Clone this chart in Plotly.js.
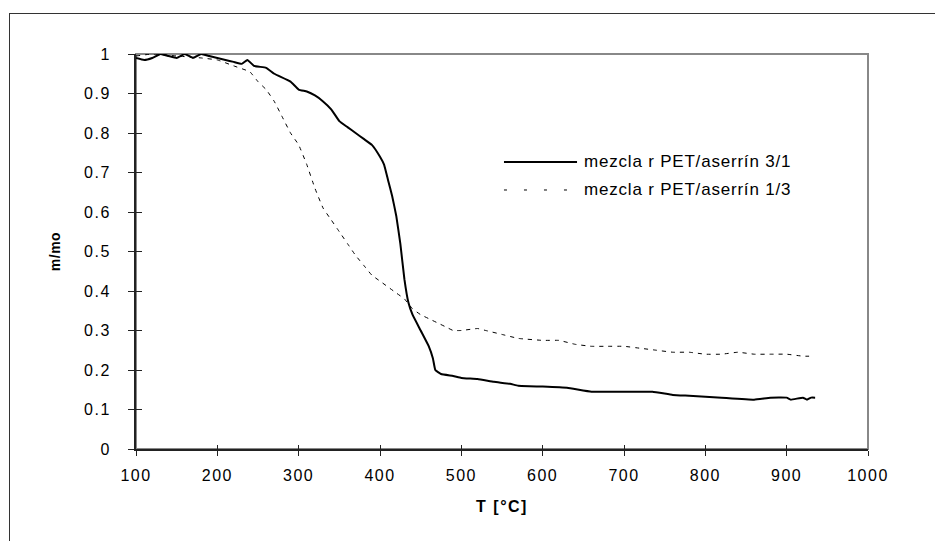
<!DOCTYPE html>
<html>
<head>
<meta charset="utf-8">
<script src="https://cdn.plot.ly/plotly-3.0.1.min.js"></script>
<style>
html,body{margin:0;padding:0;background:#fff;}
#wrap{position:relative;width:935px;height:541px;overflow:hidden;}
#chart{position:absolute;left:0;top:0;width:935px;height:541px;}
#frame{position:absolute;left:9px;top:13px;width:940px;height:540px;border:1.5px solid #333;box-sizing:border-box;pointer-events:none;}
.xtick text, .ytick text{letter-spacing:1.5px;}
.annotation-text{letter-spacing:0.8px;}
.xtitle{letter-spacing:1.5px;}
.ytitle{letter-spacing:0.5px;}
</style>
</head>
<body>
<div id="wrap"><div id="chart"></div><div id="frame"></div></div>
<script>
const seriesNames = ["mezcla r PET/aserrín 3/1", "mezcla r PET/aserrín 1/3"];

const t31 = [100,110,120,130,140,150,160,170,180,190,200,210,220,230,237,245,260,270,290,300,310,320,330,340,350,360,370,380,390,400,405,410,415,420,425,430,435,440,450,460,465,468,475,490,500,520,540,560,570,600,630,660,700,735,760,780,820,860,880,900,905,920,925,930,935];
const m31 = [0.99,0.985,0.99,1.0,0.995,0.99,1.0,0.99,1.0,0.995,0.99,0.985,0.98,0.975,0.985,0.97,0.965,0.95,0.93,0.91,0.905,0.895,0.88,0.86,0.83,0.815,0.80,0.785,0.77,0.74,0.72,0.68,0.64,0.59,0.52,0.43,0.37,0.34,0.30,0.26,0.23,0.20,0.19,0.185,0.18,0.177,0.17,0.165,0.16,0.158,0.155,0.145,0.145,0.145,0.137,0.135,0.13,0.125,0.13,0.13,0.125,0.13,0.125,0.13,0.13];

const t13 = [100,120,150,180,200,220,240,250,260,270,280,290,300,310,320,330,340,350,360,370,380,390,400,410,420,430,440,450,460,470,480,490,500,520,530,550,570,600,620,640,660,680,700,720,740,760,780,800,820,840,860,880,900,920,930];
const m13 = [0.995,1.0,0.995,0.99,0.985,0.97,0.955,0.93,0.91,0.88,0.84,0.80,0.77,0.72,0.66,0.61,0.58,0.55,0.52,0.49,0.465,0.44,0.425,0.41,0.395,0.38,0.355,0.34,0.33,0.32,0.31,0.30,0.30,0.305,0.30,0.29,0.28,0.275,0.275,0.265,0.26,0.26,0.26,0.255,0.25,0.245,0.245,0.24,0.24,0.245,0.24,0.24,0.24,0.235,0.235];

const xTicks = [100,200,300,400,500,600,700,800,900,1000];
const yTicks = [0,0.1,0.2,0.3,0.4,0.5,0.6,0.7,0.8,0.9,1];

const fam = '"Liberation Sans", Arial, sans-serif';
const fnt = {family:fam, size:16, color:'#000'};

const traces = [
  {x:t31, y:m31, name:seriesNames[0], mode:'lines', showlegend:false, line:{color:'#000', width:2, shape:'spline', smoothing:0.3}},
  {x:t13, y:m13, name:seriesNames[1], mode:'lines', showlegend:false, line:{color:'#000', width:1, dash:'4px,5px', shape:'spline', smoothing:0.3}},
  {x:[], y:[], xaxis:'x2', yaxis:'y2', mode:'lines', showlegend:false, hoverinfo:'skip'}
];

// legend placed in paper coordinates
const legX0 = 0.5027, legX1 = 0.6025, legTX = 0.6093, legY = [0.7266, 0.6557];

const layout = {
  width:935, height:541,
  margin:{l:136, r:67, t:54, b:92},
  paper_bgcolor:'rgba(0,0,0,0)', plot_bgcolor:'#fff',
  showlegend:false,
  font:fnt,
  xaxis:{range:[100,1000], tickvals:xTicks, ticktext:xTicks.map(String), showgrid:false, zeroline:false,
    showline:true, linecolor:'#222', linewidth:2, ticks:'outside', ticklen:5, tickcolor:'#222', tickwidth:1,
    ticklabelstandoff:6,
    tickfont:fnt, title:{text:'<b>T [°C]</b>', font:{family:fam, size:16, color:'#000'}, standoff:18}},
  yaxis:{range:[0,1], tickvals:yTicks, ticktext:yTicks.map(String), showgrid:false, zeroline:false,
    showline:true, linecolor:'#222', linewidth:2, ticks:'outside', ticklen:6, tickcolor:'#222', tickwidth:1,
    ticklabelstandoff:14,
    tickfont:fnt, title:{text:'<b>m/mo</b>', font:{family:fam, size:14, color:'#000'}, standoff:20}},
  xaxis2:{overlaying:'x', matches:'x', range:[100,1000], tickvals:xTicks, ticks:'inside', ticklen:4, tickcolor:'#222', tickwidth:1,
    showticklabels:false, showgrid:false, zeroline:false, showline:false},
  yaxis2:{overlaying:'y', matches:'y', range:[0,1], tickvals:yTicks, ticks:'inside', ticklen:6, tickcolor:'#222', tickwidth:1,
    showticklabels:false, showgrid:false, zeroline:false, showline:false},
  shapes:[
    {type:'rect', xref:'paper', yref:'paper', x0:0, x1:1, y0:0, y1:1, line:{color:'#888', width:2}, layer:'below'},
    {type:'line', xref:'paper', yref:'paper', x0:legX0, x1:legX1, y0:legY[0], y1:legY[0], line:{color:'#000', width:2}},
    {type:'line', xref:'paper', yref:'paper', x0:legX0, x1:legX1, y0:legY[1], y1:legY[1], line:{color:'#000', width:1, dash:'3px,17px'}}
  ],
  annotations:[
    {xref:'paper', yref:'paper', x:legTX, y:legY[0], xanchor:'left', yanchor:'middle', showarrow:false, text:seriesNames[0], font:{family:fam, size:17, color:'#000'}},
    {xref:'paper', yref:'paper', x:legTX, y:legY[1], xanchor:'left', yanchor:'middle', showarrow:false, text:seriesNames[1], font:{family:fam, size:17, color:'#000'}}
  ]
};

Plotly.newPlot('chart', traces, layout, {staticPlot:true});
</script>
</body>
</html>
